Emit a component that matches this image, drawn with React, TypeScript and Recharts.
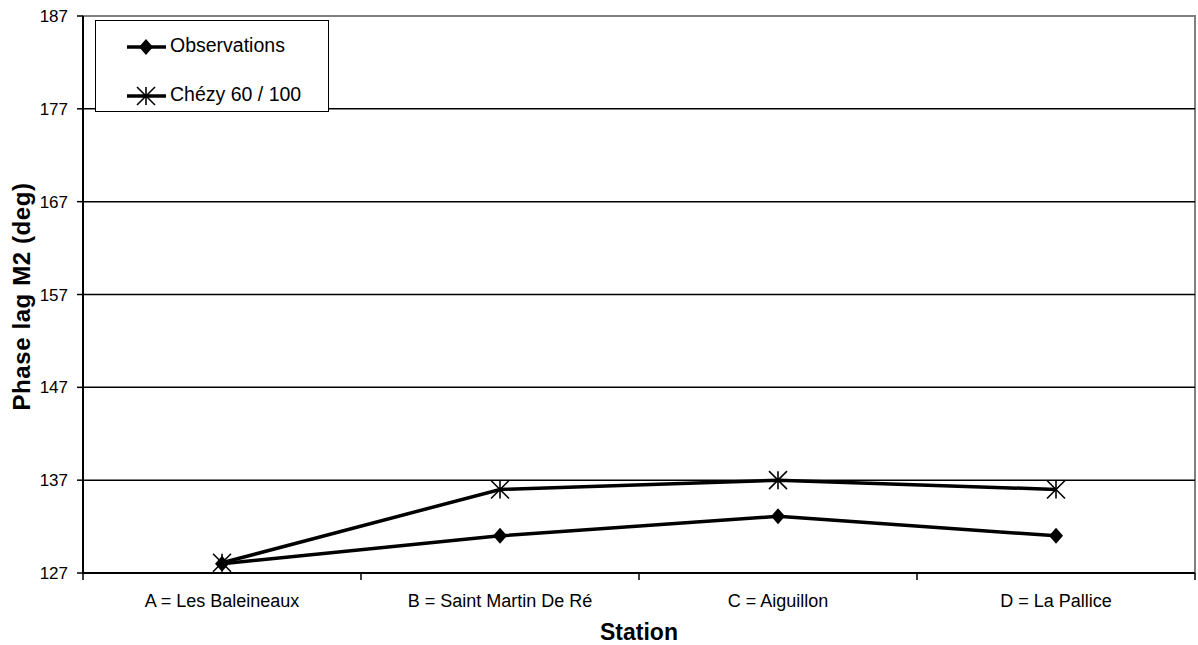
import { Line, LineChart, ReferenceArea, ReferenceLine, XAxis, YAxis } from "recharts"

// station names along the x axis
const STATIONS = ["A = Les Baleineaux", "B = Saint Martin De Ré", "C = Aiguillon", "D = La Pallice"]

// phase lag M2 in degrees
const OBSERVATIONS = [128.0, 131.0, 133.1, 131.0]
const CHEZY = [128.1, 136.0, 137.0, 136.0]

const Y_TICKS = [127, 137, 147, 157, 167, 177, 187]

const data = STATIONS.map((station, i) => ({
  station,
  obs: OBSERVATIONS[i],
  chezy: CHEZY[i],
}))

const FONT = "Arial, 'Liberation Sans', sans-serif"

// filled diamond marker
const Diamond = (props: any) => {
  const { cx, cy } = props
  if (cx == null || cy == null) return null
  return <polygon points={`${cx},${cy - 8} ${cx + 7},${cy} ${cx},${cy + 8} ${cx - 7},${cy}`} fill="#000" />
}

// asterisk marker
const Star = (props: any) => {
  const { cx, cy } = props
  if (cx == null || cy == null) return null
  const r = 9
  return (
    <g stroke="#000" strokeWidth={1.6}>
      <line x1={cx} y1={cy - r} x2={cx} y2={cy + r} />
      <line x1={cx - r} y1={cy - r} x2={cx + r} y2={cy + r} />
      <line x1={cx - r} y1={cy + r} x2={cx + r} y2={cy - r} />
    </g>
  )
}

// category label in the middle of the band, tick marks on band edges
const StationTick = (props: any) => {
  const { x, y, payload, index, visibleTicksCount } = props
  const half = payload?.offset ?? 0
  return (
    <g>
      <line x1={x - half} y1={y} x2={x - half} y2={y + 7} stroke="#000" strokeWidth={1.5} />
      {index === visibleTicksCount - 1 && (
        <line x1={x + half} y1={y} x2={x + half} y2={y + 7} stroke="#000" strokeWidth={1.5} />
      )}
      <text x={x} y={y + 28} textAnchor="middle" dy="0.355em" fontSize={18} fontFamily={FONT} fill="#000">
        {payload.value}
      </text>
    </g>
  )
}

const LegendBox = () => (
  <div
    style={{
      position: "absolute",
      left: 95,
      top: 20,
      width: 232,
      height: 90,
      border: "1.5px solid #000",
      background: "#fff",
      fontFamily: FONT,
      fontSize: 19.5,
    }}
  >
    <svg width={42} height={90} style={{ position: "absolute", left: 30, top: 0 }}>
      <line x1={1} y1={26} x2={40} y2={26} stroke="#000" strokeWidth={3.5} />
      <Diamond cx={20} cy={26} />
      <line x1={1} y1={75} x2={40} y2={75} stroke="#000" strokeWidth={3.5} />
      <Star cx={20} cy={75} />
    </svg>
    <div style={{ position: "absolute", left: 74, top: 13 }}>Observations</div>
    <div style={{ position: "absolute", left: 74, top: 62 }}>Chézy 60 / 100</div>
  </div>
)

export default function App() {
  return (
    <div style={{ position: "absolute", left: 0, top: 0, width: 1198, height: 645, background: "#fff" }}>
      <LineChart width={1198} height={645} data={data} margin={{ top: 16, right: 3, left: 0, bottom: 0 }}>
        <ReferenceArea y1={127} y2={187} fill="none" stroke="#808080" strokeWidth={2} />
        {Y_TICKS.filter((t) => t > 127 && t < 187).map((t) => (
          <ReferenceLine key={t} y={t} stroke="#000" strokeWidth={1.5} />
        ))}
        <XAxis
          dataKey="station"
          scale="band"
          height={72}
          tickSize={0}
          tickMargin={0}
          tickLine={false}
          axisLine={{ stroke: "#000", strokeWidth: 2 }}
          tick={<StationTick />}
          interval={0}
          label={(p: any) => {
            const vb = p.viewBox
            return (
              <text x={vb.x + vb.width / 2} y={vb.y + 59} textAnchor="middle" dy="0.355em" fontSize={23} fontWeight="bold" fontFamily={FONT} fill="#000">
                Station
              </text>
            )
          }}
        />
        <YAxis
          width={83}
          domain={[127, 187]}
          ticks={Y_TICKS}
          interval={0}
          tickSize={6}
          tickMargin={9}
          tickLine={{ stroke: "#000", strokeWidth: 1.5 }}
          axisLine={{ stroke: "#000", strokeWidth: 2 }}
          tick={{ fontSize: 17, fontFamily: FONT, fill: "#000" }}
          label={(p: any) => {
            const vb = p.viewBox
            const cx = vb.x + 21
            const cy = vb.y + vb.height / 2 + 2
            return (
              <text x={cx} y={cy} transform={`rotate(-90 ${cx} ${cy})`} textAnchor="middle" dy="0.355em" fontSize={24} letterSpacing={0.6} fontWeight="bold" fontFamily={FONT} fill="#000">
                Phase lag M2 (deg)
              </text>
            )
          }}
        />
        <Line dataKey="obs" name="Observations" stroke="#000" strokeWidth={3.5} dot={<Diamond />} activeDot={false} isAnimationActive={false} />
        <Line dataKey="chezy" name="Chézy 60 / 100" stroke="#000" strokeWidth={3.5} dot={<Star />} activeDot={false} isAnimationActive={false} />
      </LineChart>
      <LegendBox />
    </div>
  )
}
